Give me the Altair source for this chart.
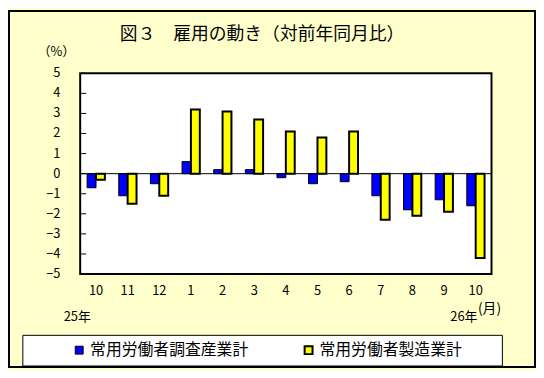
import altair as alt
import pandas as pd

# ---- data ----
periods = ["25/10", "25/11", "25/12", "26/1", "26/2", "26/3", "26/4",
           "26/5", "26/6", "26/7", "26/8", "26/9", "26/10"]
series_names = ["常用労働者調査産業計", "常用労働者製造業計"]
survey_total = [-0.7, -1.1, -0.5, 0.6, 0.2, 0.2, -0.2, -0.5, -0.4, -1.1, -1.8, -1.3, -1.6]
manufacturing = [-0.3, -1.5, -1.1, 3.2, 3.1, 2.7, 2.1, 1.8, 2.1, -2.3, -2.1, -1.9, -4.2]
y_ticks = [-5, -4, -3, -2, -1, 0, 1, 2, 3, 4, 5]
title_text = "図３　雇用の動き（対前年同月比）"
unit_y = "（%）"
unit_x = "(月)"
year_start = "25年"
year_end = "26年"

rows = []
for p, a, b in zip(periods, survey_total, manufacturing):
    rows.append({"period": p, "series": series_names[0], "value": a})
    rows.append({"period": p, "series": series_names[1], "value": b})
df = pd.DataFrame(rows)
ticks_df = pd.DataFrame({"value": y_ticks})
zero_df = pd.DataFrame({"value": [0]})
one = pd.DataFrame({"k": [0]})

W, H = 416, 203
PR = 45
FONT = "Noto Sans CJK JP"

x_enc = alt.X(
    "period:N", sort=periods,
    scale=alt.Scale(paddingInner=0, paddingOuter=0),
    axis=alt.Axis(title=None, labelAngle=0, labelExpr="split(datum.label, '/')[1]",
                  ticks=False, domain=False, labelPadding=11, labelFontSize=13,
                  labelFont=FONT, labelColor="black", labelFontWeight="normal"),
)
y_scale = alt.Scale(domain=[-5, 5], nice=False, zero=False)

# outer frame and legend box
frame = alt.Chart(one).mark_rect(fillOpacity=0, stroke="black", strokeWidth=2).encode(
    x=alt.value(-72), x2=alt.value(W + PR - 1), y=alt.value(-63), y2=alt.value(H + 94)
)
legend_box = alt.Chart(one).mark_rect(fill="white", stroke="black", strokeWidth=1).encode(
    x=alt.value(-58), x2=alt.value(427), y=alt.value(265), y2=alt.value(296)
)

bars = alt.Chart(df).mark_bar(stroke="black").encode(
    x=x_enc,
    xOffset=alt.XOffset("series:N", sort=series_names,
                        scale=alt.Scale(paddingInner=0, paddingOuter=0.78)),
    y=alt.Y("value:Q", scale=y_scale, axis=None),
    color=alt.Color("series:N", sort=series_names,
                    scale=alt.Scale(domain=series_names, range=["#0000FF", "#FFFF00"]),
                    legend=alt.Legend(title=None, orient="none", legendX=-9, legendY=272,
                                      direction="horizontal", labelFont=FONT,
                                      labelFontSize=16, labelColor="black", labelLimit=0,
                                      symbolType="square", symbolSize=64,
                                      symbolStrokeColor="black", symbolStrokeWidth=1.2,
                                      symbolOpacity=1,
                                      labelOffset=3, columnPadding=52, padding=0)),
    strokeWidth=alt.StrokeWidth("series:N",
                                scale=alt.Scale(domain=series_names, range=[1, 2]),
                                legend=None),
)

zero_rule = alt.Chart(zero_df).mark_rule(color="black", strokeWidth=1).encode(
    y=alt.Y("value:Q", scale=y_scale, axis=None)
)

inner_ticks = alt.Chart(ticks_df).mark_rule(color="black", strokeWidth=1).encode(
    y=alt.Y("value:Q", scale=y_scale, axis=None), x=alt.value(1), x2=alt.value(6)
)

y_labels = alt.Chart(ticks_df).mark_text(
    font=FONT, fontSize=13, color="black", align="right", baseline="middle"
).encode(
    y=alt.Y("value:Q", scale=y_scale, axis=None),
    x=alt.value(-20),
    text=alt.Text("value:Q", format="d"),
)

def label(txt, x, y, size, align="center"):
    return alt.Chart(one).mark_text(font=FONT, fontSize=size, color="black",
                                    align=align, baseline="middle").encode(
        x=alt.value(x), y=alt.value(y), text=alt.value(txt))

title = label(title_text, 184, -39, 18)
pct = label(unit_y, -24, -22, 13)
ys = label(year_start, -3, 246, 13)
ye = label(year_end, 388, 246, 13)
mon = label(unit_x, 414, 238, 14)

chart = alt.layer(
    frame, legend_box, bars, zero_rule, inner_ticks, y_labels, title, pct, ys, ye, mon
).properties(
    width=W, height=H,
    autosize=alt.AutoSizeParams(type="none"),
    padding={"left": 73, "top": 64, "right": PR, "bottom": 95},
    background="#FFFFCC",
).configure_view(
    fill="white", stroke="black", strokeWidth=2
)

chart.save("out.html", embed_options={"renderer": "svg", "actions": False})
